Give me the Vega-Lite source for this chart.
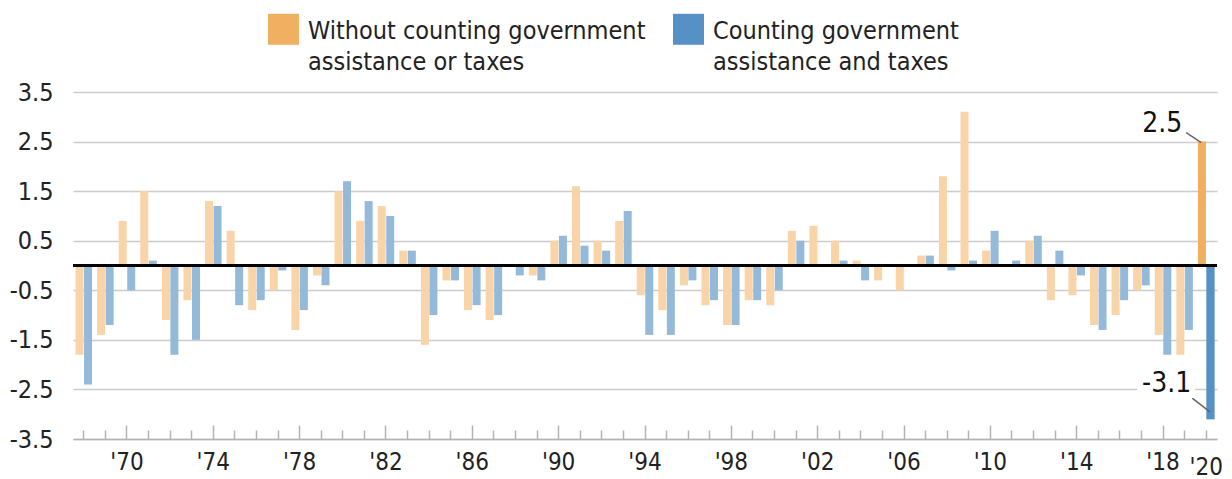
{
  "$schema": "https://vega.github.io/schema/vega-lite/v6.json",
  "autosize": {"type": "none"},
  "padding": {"top": 92, "left": 73, "right": 15, "bottom": 40},
  "width": 1144,
  "height": 347,
  "background": "white",
  "config": {
    "view": {"stroke": null},
    "font": "'Liberation Sans Narrow', 'DejaVu Sans Condensed', Roboto, sans-serif",
    "axis": {"labelFont": "'Liberation Sans Narrow', 'DejaVu Sans Condensed', Roboto, sans-serif", "labelColor": "#222", "title": null},
    "legend": {"labelFont": "'Liberation Sans Narrow', 'DejaVu Sans Condensed', Roboto, sans-serif"},
    "style": {"guide-label": {"lineHeight": 31}}
  },
  "data": {
    "values": [
      {"year": 1968, "without": -1.8, "with": -2.4},
      {"year": 1969, "without": -1.4, "with": -1.2},
      {"year": 1970, "without": 0.9, "with": -0.5},
      {"year": 1971, "without": 1.5, "with": 0.1},
      {"year": 1972, "without": -1.1, "with": -1.8},
      {"year": 1973, "without": -0.7, "with": -1.5},
      {"year": 1974, "without": 1.3, "with": 1.2},
      {"year": 1975, "without": 0.7, "with": -0.8},
      {"year": 1976, "without": -0.9, "with": -0.7},
      {"year": 1977, "without": -0.5, "with": -0.1},
      {"year": 1978, "without": -1.3, "with": -0.9},
      {"year": 1979, "without": -0.2, "with": -0.4},
      {"year": 1980, "without": 1.5, "with": 1.7},
      {"year": 1981, "without": 0.9, "with": 1.3},
      {"year": 1982, "without": 1.2, "with": 1.0},
      {"year": 1983, "without": 0.3, "with": 0.3},
      {"year": 1984, "without": -1.6, "with": -1.0},
      {"year": 1985, "without": -0.3, "with": -0.3},
      {"year": 1986, "without": -0.9, "with": -0.8},
      {"year": 1987, "without": -1.1, "with": -1.0},
      {"year": 1988, "without": 0, "with": -0.2},
      {"year": 1989, "without": -0.2, "with": -0.3},
      {"year": 1990, "without": 0.5, "with": 0.6},
      {"year": 1991, "without": 1.6, "with": 0.4},
      {"year": 1992, "without": 0.5, "with": 0.3},
      {"year": 1993, "without": 0.9, "with": 1.1},
      {"year": 1994, "without": -0.6, "with": -1.4},
      {"year": 1995, "without": -0.9, "with": -1.4},
      {"year": 1996, "without": -0.4, "with": -0.3},
      {"year": 1997, "without": -0.8, "with": -0.7},
      {"year": 1998, "without": -1.2, "with": -1.2},
      {"year": 1999, "without": -0.7, "with": -0.7},
      {"year": 2000, "without": -0.8, "with": -0.5},
      {"year": 2001, "without": 0.7, "with": 0.5},
      {"year": 2002, "without": 0.8, "with": 0},
      {"year": 2003, "without": 0.5, "with": 0.1},
      {"year": 2004, "without": 0.1, "with": -0.3},
      {"year": 2005, "without": -0.3, "with": 0},
      {"year": 2006, "without": -0.5, "with": 0},
      {"year": 2007, "without": 0.2, "with": 0.2},
      {"year": 2008, "without": 1.8, "with": -0.1},
      {"year": 2009, "without": 3.1, "with": 0.1},
      {"year": 2010, "without": 0.3, "with": 0.7},
      {"year": 2011, "without": 0, "with": 0.1},
      {"year": 2012, "without": 0.5, "with": 0.6},
      {"year": 2013, "without": -0.7, "with": 0.3},
      {"year": 2014, "without": -0.6, "with": -0.2},
      {"year": 2015, "without": -1.2, "with": -1.3},
      {"year": 2016, "without": -1.0, "with": -0.7},
      {"year": 2017, "without": -0.5, "with": -0.4},
      {"year": 2018, "without": -1.4, "with": -1.8},
      {"year": 2019, "without": -1.8, "with": -1.3},
      {"year": 2020, "without": 2.5, "with": -3.1}
    ]
  },
  "transform": [{"fold": ["without", "with"], "as": ["series", "value"]}],
  "encoding": {
    "x": {
      "field": "year", "type": "ordinal",
      "scale": {"paddingInner": 0.235, "paddingOuter": 0.1175},
      "axis": {
        "labelAngle": 0,
        "labelFontSize": 24,
        "labelPadding": 25,
        "labelExpr": "((datum.value - 1970) % 4 == 0 || datum.value == 2020) ? \"'\" + slice(datum.label, 2) : ''",
        "domainColor": "#b3b3b3", "domainWidth": 1.5,
        "tickColor": "#b3b3b3", "tickWidth": 1.5,
        "tickSize": {"condition": {"test": "(datum.value - 1970) % 4 == 0 && datum.value < 2020", "value": -14}, "value": -9}
      }
    }
  },
  "layer": [
    {
      "mark": {"type": "bar"},
      "encoding": {
        "xOffset": {"field": "series", "type": "nominal", "scale": {"domain": ["without", "with"], "paddingInner": 0.06}},
        "y": {
          "field": "value", "type": "quantitative",
          "scale": {"domain": [-3.5, 3.5], "nice": false, "zero": false},
          "axis": {
            "values": [-3.5, -2.5, -1.5, -0.5, 0.5, 1.5, 2.5, 3.5],
            "labelExpr": "toString(datum.value)",
            "labelFontSize": 25, "labelPadding": 20,
            "ticks": false, "domain": false,
            "gridColor": "#cccccc", "gridWidth": 1.5
          }
        },
        "color": {
          "field": "series", "type": "nominal",
          "scale": {"domain": ["without", "with"], "range": ["#f8d4a8", "#95bad9"]},
          "legend": null
        }
      }
    },
    {
      "transform": [{"filter": "datum.year == 2020"}],
      "mark": {"type": "bar"},
      "encoding": {
        "xOffset": {"field": "series", "type": "nominal", "scale": {"domain": ["without", "with"], "paddingInner": 0.06}},
        "y": {"field": "value", "type": "quantitative"},
        "color": {
          "field": "series", "type": "nominal",
          "scale": {"domain": ["without", "with"], "range": ["#f0b062", "#5591c4"]},
          "legend": {
            "title": null, "orient": "none", "legendX": 195, "legendY": -89,
            "direction": "horizontal",
            "symbolType": "M-1,-0.32H1V1.68H-1Z", "symbolSize": 961, "symbolStrokeWidth": 0, "symbolOpacity": 1,
            "labelFontSize": 25, "labelColor": "#222", "labelOffset": 9, "labelLimit": 500,
            "labelBaseline": "top",
            "columnPadding": 27,
            "labelExpr": "datum.value == 'without' ? ['Without counting government', 'assistance or taxes'] : ['Counting government', 'assistance and taxes']"
          }
        }
      }
    },
    {
      "mark": {"type": "rule", "color": "#000000", "strokeWidth": 3},
      "encoding": {"y": {"datum": 0}, "x": null}
    },
    {
      "transform": [{"filter": "datum.year == 2020 && datum.series == 'without'"}],
      "mark": {"type": "rule", "color": "#666666", "strokeWidth": 1.5, "xOffset": -20, "x2Offset": -5, "yOffset": -9, "y2Offset": 1},
      "encoding": {"x2": {"field": "year"}, "y": {"field": "value", "type": "quantitative"}, "y2": {"field": "value"}}
    },
    {
      "transform": [{"filter": "datum.year == 2020 && datum.series == 'with'"}],
      "mark": {"type": "rule", "color": "#666666", "strokeWidth": 1.5, "xOffset": -14, "x2Offset": 4, "yOffset": -21, "y2Offset": -7},
      "encoding": {"x2": {"field": "year"}, "y": {"field": "value", "type": "quantitative"}, "y2": {"field": "value"}}
    },
    {
      "transform": [{"filter": "datum.year == 2020 && datum.series == 'without'"}],
      "mark": {"type": "text", "fontSize": 28, "color": "#111", "align": "right", "baseline": "alphabetic", "dx": -24, "dy": -10, "text": {"expr": "toString(datum.value)"}},
      "encoding": {"y": {"field": "value", "type": "quantitative"}}
    },
    {
      "transform": [{"filter": "datum.year == 2020 && datum.series == 'with'"}],
      "mark": {"type": "text", "fontSize": 28, "color": "white", "stroke": "white", "strokeWidth": 12, "align": "right", "baseline": "alphabetic", "dx": -15, "dy": -27, "text": {"expr": "toString(datum.value)"}},
      "encoding": {"y": {"field": "value", "type": "quantitative"}}
    },
    {
      "transform": [{"filter": "datum.year == 2020 && datum.series == 'with'"}],
      "mark": {"type": "text", "fontSize": 28, "color": "#111", "align": "right", "baseline": "alphabetic", "dx": -15, "dy": -27, "text": {"expr": "toString(datum.value)"}},
      "encoding": {"y": {"field": "value", "type": "quantitative"}}
    }
  ],
  "resolve": {"scale": {"color": "independent"}}
}
